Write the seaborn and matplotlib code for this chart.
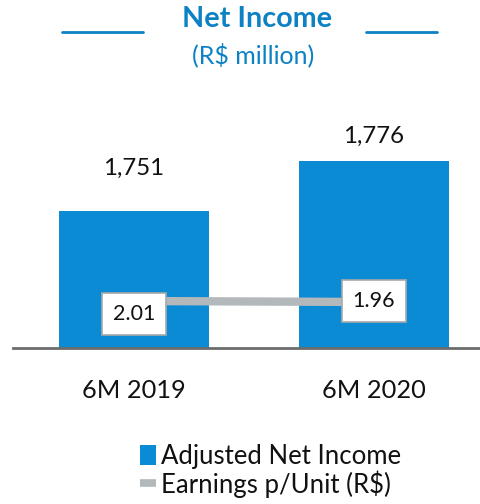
import matplotlib
matplotlib.use("Agg")
import matplotlib.pyplot as plt
from matplotlib.patches import Patch
from matplotlib.lines import Line2D
import seaborn as sns
import pandas as pd

periods = ["6M 2019", "6M 2020"]
adjusted_net_income = [1751, 1776]
earnings_per_unit = [2.01, 1.96]

BLUE = "#0A8BD3"
TITLE_BLUE = "#0C82C4"
GREY_LINE = "#B3B8BB"
FONT = "Lato"

sns.set_theme(style="white")
plt.rcParams["font.family"] = [FONT, "DejaVu Sans"]

W, H = 481, 504
fig = plt.figure(figsize=(W / 100, H / 100), dpi=100)

# axes in pixel terms: baseline at y=348, left edge 13, right edge 481
top_px, base_px = 100, 348
ax = fig.add_axes([13 / W, 1 - base_px / H, (481 - 13) / W, (base_px - top_px) / H])

df = pd.DataFrame({"period": periods, "income": adjusted_net_income, "eps": earnings_per_unit})

sns.barplot(data=df, x="period", y="income", color=BLUE, width=0.625, ax=ax,
            saturation=1, edgecolor="none")
ax.set_xlim(-0.504, 1.446)
# truncated value scale: 2 px per R$ million
span = (base_px - top_px) / 2.0
ylo = 1682.5
ax.set_ylim(ylo, ylo + span)

label_lift = [21.5, 12.5]
for i, v in enumerate(adjusted_net_income):
    ax.text(i, v + label_lift[i], f"{v:,}", ha="center", va="center", fontsize=17.3,
            color="#111111")

ax.set_xlabel("")
ax.set_ylabel("")
ax.set_yticks([])
ax.tick_params(axis="x", length=0, labelsize=18.3, pad=22, colors="#111111")
for s in ["top", "right", "left"]:
    ax.spines[s].set_visible(False)
ax.spines["bottom"].set_color("#6B6B6B")
ax.spines["bottom"].set_linewidth(2)

# secondary scale for earnings per unit
ax2 = ax.twinx()
ax2.set_ylim(-0.34, -0.34 + (base_px - top_px) / 20.0)
sns.lineplot(data=df, x="period", y="eps", color=GREY_LINE, linewidth=6, ax=ax2,
             legend=False, solid_capstyle="butt")
ax2.set_xlim(-0.504, 1.446)
ax2.set_yticks([])
ax2.set_ylabel("")
ax2.set_xlabel("")
for s in ax2.spines.values():
    s.set_visible(False)

box = dict(boxstyle="square,pad=0.5", facecolor="white", edgecolor="#A9A9A9", linewidth=1.2)
offsets = [-0.65, 0.05]
for i, v in enumerate(earnings_per_unit):
    ax2.text(i, v + offsets[i], f"{v:.2f}", ha="center", va="center", fontsize=15.5,
             color="#111111", bbox=box, zorder=5)

# header
fig.text(257 / W, 1 - 19 / H, "Net Income", ha="center", va="center", fontsize=20.7,
         fontweight="bold", color=TITLE_BLUE)
fig.text(253 / W, 1 - 55 / H, "(R$ million)", ha="center", va="center", fontsize=18,
         color=TITLE_BLUE)
fig.add_artist(Line2D([62 / W, 143 / W], [1 - 32 / H] * 2, color=TITLE_BLUE, linewidth=2,
                      transform=fig.transFigure))
fig.add_artist(Line2D([366 / W, 437 / W], [1 - 32 / H] * 2, color=TITLE_BLUE, linewidth=2,
                      transform=fig.transFigure))

handles = [Patch(facecolor=BLUE, edgecolor="none"),
           Line2D([0], [0], color=GREY_LINE, linewidth=5.5, solid_capstyle="butt")]
fig.legend(handles, ["Adjusted Net Income", "Earnings p/Unit (R$)"],
           loc="upper left", bbox_to_anchor=(140 / W, 1 - 444 / H), frameon=False,
           fontsize=18.5, handlelength=0.62, handleheight=0.8, handletextpad=0.2,
           labelspacing=0.05, borderpad=0, borderaxespad=0, labelcolor="#111111")

fig.savefig("out.png", dpi=100)
